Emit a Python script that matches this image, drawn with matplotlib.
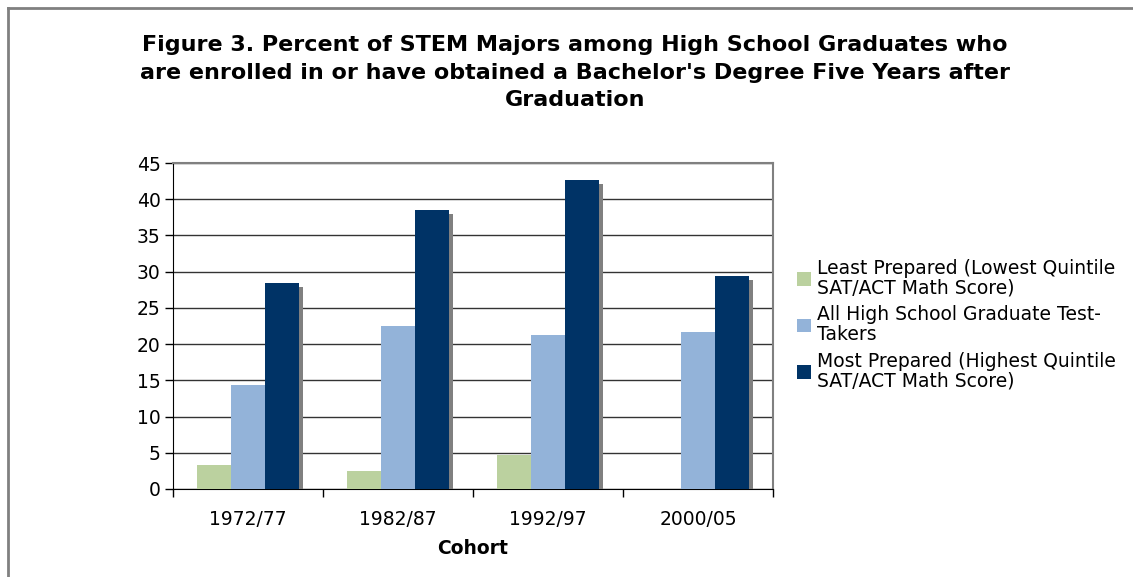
import numpy as np
import matplotlib
matplotlib.use('Agg')
import matplotlib.pyplot as plt
import matplotlib.patheffects as pe

# data
cohorts = ['1972/77', '1982/87', '1992/97', '2000/05']
least = [3.3, 2.5, 4.7, np.nan]
all_takers = [14.4, 22.5, 21.3, 21.7]
most = [28.45, 38.5, 42.7, 29.4]

names = ['Least Prepared (Lowest Quintile\nSAT/ACT Math Score)',
         'All High School Graduate Test-\nTakers',
         'Most Prepared (Highest Quintile\nSAT/ACT Math Score)']
colors = ['#BBD19F', '#93B3D9', '#003366']

plt.rcParams['font.family'] = 'DejaVu Sans'

fig = plt.figure(figsize=(11.33, 5.77), dpi=100)
# outer frame (left + top only visible)
fig.add_artist(plt.Line2D([7.5/1133, 7.5/1133], [0, 1 - 7.5/577], color='#808080', lw=2))
fig.add_artist(plt.Line2D([7.5/1133, 1], [1 - 7.5/577, 1 - 7.5/577], color='#808080', lw=2))

ax = fig.add_axes([173/1133, 88/577, 600/1133, 326/577])

x = np.arange(len(cohorts))
w = 0.225
shadow = [pe.SimplePatchShadow(offset=(3, -3), shadow_rgbFace='#808080', alpha=1), pe.Normal()]
for i, (vals, c, n) in enumerate(zip([least, all_takers, most], colors, names)):
    bars = ax.bar(x + (i - 1) * w, vals, w, color=c, label=n, zorder=3)
    for b in bars:
        b.set_path_effects(shadow)

ax.set_xlim(-0.5, 3.5)
ax.set_ylim(0, 45)
ax.set_yticks(np.arange(0, 46, 5))
ax.set_xticks(x)
ax.set_xticklabels(cohorts)
ax.set_xticks(np.arange(-0.5, 4, 1), minor=True)
ax.tick_params(axis='x', which='major', length=0, pad=15, labelsize=13.5)
ax.tick_params(axis='x', which='minor', length=6, direction='out', width=1)
ax.tick_params(axis='y', length=6, width=1, labelsize=13.5, pad=3)
ax.yaxis.grid(True, color='#333333', lw=1)
ax.set_axisbelow(True)
for s in ['top', 'right']:
    ax.spines[s].set_color('#808080')
    ax.spines[s].set_linewidth(1.5)
ax.spines['left'].set_color('black')
ax.spines['bottom'].set_color('black')

ax.set_xlabel('Cohort', fontsize=13.5, fontweight='bold', labelpad=7)

fig.text(575/1133, 1 - 72.5/577,
         'Figure 3. Percent of STEM Majors among High School Graduates who\n'
         'are enrolled in or have obtained a Bachelor\'s Degree Five Years after\n'
         'Graduation', ha='center', va='center', fontsize=16, fontweight='bold',
         linespacing=1.45)

leg = fig.legend(loc='upper left', bbox_to_anchor=(789/1133, 1 - 251/577),
                 frameon=False, fontsize=13.5, handlelength=0.75, handleheight=0.75,
                 handletextpad=0.35, labelspacing=0.42, borderaxespad=0)
for h in leg.legend_handles:
    h.set_path_effects([])
for t in leg.get_texts():
    t.set_linespacing(1.05)

fig.savefig('out.png', dpi=100)
